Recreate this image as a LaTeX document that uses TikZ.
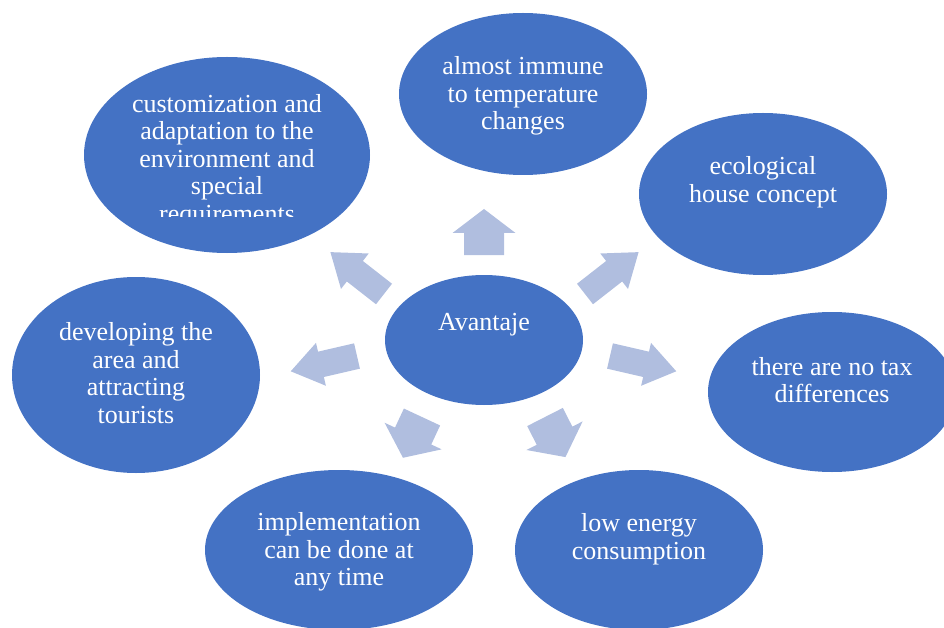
\documentclass[tikz,border=0pt]{standalone}
\usepackage{fontspec}
\setmainfont{Liberation Serif}
\usepackage{tikz}
\usetikzlibrary{shapes.geometric}
\definecolor{bubblefill}{RGB}{68,114,196}
\definecolor{arrowfill}{RGB}{176,190,223}
\tikzset{
	bubble/.style={ellipse, fill=bubblefill, draw=none, inner sep=0pt},
	txt/.style={align=center, text=white, inner sep=0pt, font=\fontsize{26}{27.5}\selectfont},
}

\begin{document}
\begin{tikzpicture}[x=1pt, y=-1pt]
		\clip (0, 0) rectangle (944, 628);
		\node[bubble, minimum width=198, minimum height=130] (cent) at (484, 340) {};
		\node[bubble, minimum width=248, minimum height=162] (temp) at (523, 94) {};
		\node[bubble, minimum width=248, minimum height=162] (eco) at (763, 194) {};
		\node[bubble, minimum width=248, minimum height=160] (tax) at (832, 392) {};
		\node[bubble, minimum width=248, minimum height=160] (low) at (639, 550) {};
		\node[bubble, minimum width=268, minimum height=160] (impl) at (339, 550) {};
		\node[bubble, minimum width=248, minimum height=196] (dev) at (136, 375) {};
		\node[bubble, minimum width=286, minimum height=196] (cust) at (227, 155) {};

		\node[txt] (cent-t) at ([yshift=15]cent) {Avantaje};
		\node[txt] (temp-t) at ([yshift=-2]temp) {almost immune\\to temperature\\changes};
		\node[txt] (eco-t) at ([yshift=12]eco) {ecological\\house concept};
		\node[txt] (tax-t) at ([yshift=12]tax) {there are no tax\\differences};
		\node[txt] (low-t) at ([yshift=11]low) {low energy\\consumption};
		\node[txt] (impl-t) at ([yshift=-2]impl) {implementation\\can be done at\\any time};
		\node[txt] (dev-t) at ([yshift=2]dev) {developing the\\area and\\attracting\\tourists};
		\begin{scope}
			\clip (80, 60) rectangle (380, 217);
			\node[txt] (cust-t) at ([yshift=-6]cust) {customization and\\adaptation to the\\environment and\\special\\requirements};
		\end{scope}

		\foreach \x/\y/\a/\l/\s/\h/\k in {484/255/90/46/40/63/24, 585/294/38/68/26/45/31, 384/294/142/68/26/45/31, 357/356/193/68/26/44/31, 610/356/-13/68/26/44/31, 422/417/245/45/40/63/24, 545/417/297/45/40/63/24}
			\fill[arrowfill, shift={(\x, \y)}, rotate=\a] (0, {\s/2}) -- ({\l-\k}, {\s/2}) -- ({\l-\k}, {\h/2}) -- (\l, 0) -- ({\l-\k}, {-\h/2}) -- ({\l-\k}, {-\s/2}) -- (0, {-\s/2}) -- cycle;
	\end{tikzpicture}
\end{document}
